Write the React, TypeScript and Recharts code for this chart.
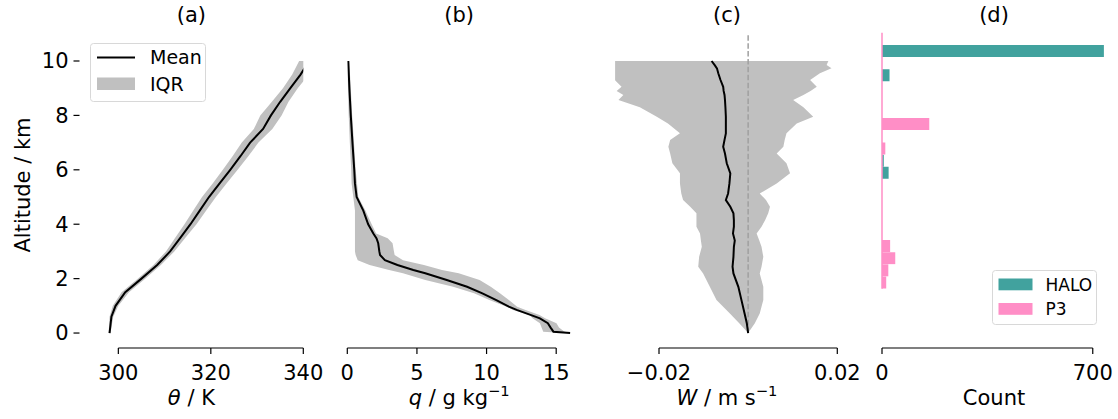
import React from 'react';
import { ComposedChart, Line, Area, Bar, XAxis, YAxis, ReferenceLine, Legend } from 'recharts';

const FONT = "'DejaVu Sans', 'Liberation Sans', sans-serif";
const FS = 21;
const GRAY = '#c0c0c0';
const TEAL = '#41a29e';
const PINK = '#ff8ec6';

const Y_MIN = -0.55;
const Y_MAX = 11.04;
const ALT_TICKS = [0, 2, 4, 6, 8, 10];

// (a) potential temperature
const thetaAlt = [0, 0.3, 0.6, 1.0, 1.5, 2.0, 2.5, 3.0, 3.5, 4.0, 4.5, 5.0, 5.5, 6.0, 6.5, 7.0, 7.5, 8.0, 8.5, 9.0, 9.5, 10.0];
const thetaMean = [298.1, 298.3, 298.5, 299.4, 301.5, 305.0, 308.4, 311.2, 313.4, 315.6, 317.6, 319.6, 321.9, 324.2, 326.4, 328.5, 331.3, 333.0, 335.0, 337.2, 339.4, 341.3];
const thetaLow = [297.9, 298.0, 298.1, 298.8, 300.7, 304.2, 307.6, 310.3, 312.3, 314.3, 316.2, 318.1, 320.4, 322.6, 324.7, 326.7, 329.3, 330.7, 333.2, 335.6, 337.6, 339.1];
const thetaHigh = [298.3, 298.6, 298.9, 300.0, 302.3, 305.8, 309.2, 312.1, 314.5, 316.9, 319.0, 321.1, 323.4, 325.8, 328.1, 330.3, 333.3, 335.3, 336.8, 338.8, 341.2, 343.5];
const thetaTicks = [300, 320, 340];

// (b) specific humidity
const qAlt = [0, 0.05, 0.2, 0.36, 0.54, 0.66, 0.85, 0.97, 1.21, 1.46, 1.7, 1.95, 2.2, 2.32, 2.5, 2.68, 2.87, 3.0, 3.3, 3.48, 3.66, 4.0, 4.5, 5.0, 5.5, 6.0, 7.0, 8.0, 9.0, 10.0];
const qMean = [16.0, 14.8, 14.6, 14.4, 13.83, 13.2, 12.16, 11.6, 10.7, 9.7, 8.6, 7.14, 5.6, 4.74, 3.6, 2.7, 2.35, 2.3, 2.22, 2.1, 1.87, 1.5, 1.15, 0.67, 0.55, 0.5, 0.37, 0.25, 0.15, 0.07];
const qLow = [15.5, 14.07, 13.95, 13.83, 13.3, 13.1, 11.9, 11.44, 10.2, 9.1, 7.6, 5.6, 4.0, 3.0, 1.6, 0.75, 0.6, 0.55, 0.55, 0.55, 0.55, 0.55, 0.55, 0.43, 0.31, 0.28, 0.18, 0.1, 0.05, 0.0];
const qHigh = [16.0, 15.6, 15.2, 15.02, 14.2, 13.8, 12.8, 12.2, 11.6, 10.96, 10.3, 9.5, 8.0, 6.8, 5.5, 4.0, 3.4, 3.35, 3.25, 2.9, 2.07, 1.75, 1.3, 0.79, 0.7, 0.6, 0.48, 0.35, 0.25, 0.14];
const qTicks = [0, 5, 10, 15];

// (c) vertical velocity
const wAlt = [0, 0.36, 0.72, 1.21, 1.7, 2.19, 2.44, 2.8, 3.17, 3.4, 3.66, 3.91, 4.15, 4.4, 4.64, 4.89, 5.13, 5.5, 5.87, 6.24, 6.6, 6.85, 7.1, 7.34, 7.7, 7.95, 8.3, 8.57, 8.75, 8.9, 9.05, 9.3, 9.55, 9.73, 9.85, 10.0];
const wMean = [0, -0.0003, -0.0008, -0.0015, -0.0022, -0.0033, -0.0035, -0.0033, -0.0032, -0.0030, -0.0034, -0.0032, -0.0032, -0.0033, -0.0040, -0.0050, -0.0045, -0.0042, -0.0040, -0.0048, -0.0052, -0.0056, -0.0053, -0.0050, -0.0050, -0.0050, -0.0051, -0.0052, -0.0053, -0.0055, -0.0056, -0.0062, -0.0067, -0.0070, -0.0075, -0.0082];
const wLow = [0, -0.0020, -0.0041, -0.0071, -0.0086, -0.0101, -0.0112, -0.0110, -0.0104, -0.0106, -0.0108, -0.0116, -0.0116, -0.0116, -0.0130, -0.0146, -0.0150, -0.0153, -0.0153, -0.0170, -0.0175, -0.0179, -0.0175, -0.0153, -0.0180, -0.0205, -0.0243, -0.0291, -0.0280, -0.0295, -0.0284, -0.0299, -0.0299, -0.0299, -0.0299, -0.0299];
const wHigh = [0, 0.0015, 0.0026, 0.0034, 0.0034, 0.0026, 0.0030, 0.0034, 0.0030, 0.0025, 0.0019, 0.0030, 0.0038, 0.0045, 0.0049, 0.0040, 0.0026, 0.0064, 0.0094, 0.0086, 0.0064, 0.0079, 0.0082, 0.0086, 0.0109, 0.0146, 0.0124, 0.0101, 0.0124, 0.0140, 0.0154, 0.0139, 0.0161, 0.0187, 0.0176, 0.0180];
const wTicks = [-0.02, 0.02];

// (d) histogram of flight altitudes
const binEdges = [1.63, 2.078, 2.526, 2.974, 3.422, 3.87, 4.318, 4.766, 5.214, 5.662, 6.11, 6.558, 7.006, 7.454, 7.902, 8.35, 8.798, 9.246, 9.694, 10.142, 10.59, 11.038];
const haloCounts = [0, 0, 0, 0, 0, 0, 0, 0, 0, 22, 6, 0, 0, 0, 0, 0, 0, 25, 0, 737, 0];
const p3Counts = [14, 21, 44, 27, 0, 0, 0, 0, 0, 0, 0, 11, 0, 157, 0, 0, 0, 0, 0, 0, 0];
const countTicks = [0, 700];

const profileRows = (alt: number[], mean: number[], lo: number[], hi: number[]) =>
  alt.map((z, i) => ({ z, mean: mean[i], band: [lo[i], hi[i]] }));

const thetaRows = profileRows(thetaAlt, thetaMean, thetaLow, thetaHigh);
const qRows = profileRows(qAlt, qMean, qLow, qHigh);
const wRows = profileRows(wAlt, wMean, wLow, wHigh);
const histRows = haloCounts.map((h, i) => ({
  z: (binEdges[i] + binEdges[i + 1]) / 2,
  halo: h,
  p3: p3Counts[i],
}));

const H = 419;
const PLOT_TOP = 32.7;
const PLOT_BOTTOM = 348;
const XAXIS_H = 40;
const LABEL_BASE = 405;

const tickStyle = { fontSize: FS, fill: '#000', fontFamily: FONT };

const fmtMinus = (v: number) => String(v).replace('-', '\u2212');

const xLabel = (parts: React.ReactNode) => (props: any) => {
  const vb = props.viewBox || {};
  return (
    <text x={vb.x + vb.width / 2} y={LABEL_BASE} textAnchor="middle" fontSize={FS} fontFamily={FONT} fill="#000">
      {parts}
    </text>
  );
};

const LegendA = () => (
  <svg width={116} height={59} style={{ display: 'block' }}>
    <rect x={0.5} y={0.5} width={115} height={58} rx={3} fill="rgba(255,255,255,0.8)" stroke="#d8d8d8" />
    <line x1={7} x2={45} y1={14.5} y2={14.5} stroke="#000" strokeWidth={2} />
    <rect x={7} y={34.5} width={38} height={12.5} fill={GRAY} />
    <text x={60} y={14.5 + 0.36 * 19} fontSize={19} fontFamily={FONT} fill="#000">Mean</text>
    <text x={60} y={40.8 + 0.36 * 19} fontSize={19} fontFamily={FONT} fill="#000">IQR</text>
  </svg>
);

const LegendD = () => (
  <svg width={105} height={55} style={{ display: 'block' }}>
    <rect x={0.5} y={0.5} width={104} height={54} rx={3} fill="rgba(255,255,255,0.8)" stroke="#d8d8d8" />
    <rect x={6.5} y={8.5} width={34} height={11.8} fill={TEAL} />
    <rect x={6.5} y={33} width={34} height={11.8} fill={PINK} />
    <text x={53.5} y={14.4 + 0.36 * 17} fontSize={17} fontFamily={FONT} fill="#000">HALO</text>
    <text x={53.5} y={38.9 + 0.36 * 17} fontSize={17} fontFamily={FONT} fill="#000">P3</text>
  </svg>
);

const commonX = {
  type: 'number' as const,
  axisLine: false,
  tickLine: { stroke: '#000', strokeWidth: 1.2 },
  tickSize: 6,
  tickMargin: 11,
  tick: tickStyle,
  interval: 0 as const,
  height: XAXIS_H,
  allowDataOverflow: true,
};

const hiddenY = (
  <YAxis type="number" dataKey="z" domain={[Y_MIN, Y_MAX]} hide allowDataOverflow reversed />
);

const spineProps = { stroke: '#000', strokeWidth: 1.2, ifOverflow: 'visible' as const };

export default function App() {
  const marginFor = (left: number, right: number) => ({
    top: PLOT_TOP,
    bottom: H - PLOT_BOTTOM - XAXIS_H,
    left,
    right,
  });

  return (
    <div style={{ position: 'absolute', left: 0, top: 0, width: 1118, height: H, background: '#fff', fontFamily: FONT }}>
      {/* (a) */}
      <div style={{ position: 'absolute', left: 0, top: 0 }}>
        <ComposedChart width={330} height={H} data={thetaRows} layout="vertical" margin={marginFor(0, 26.7)}>
          <XAxis {...commonX} dataKey="mean" domain={[291.6, 340]} ticks={thetaTicks}
            label={{ content: xLabel(<><tspan fontStyle="italic">θ</tspan><tspan> / K</tspan></>) }} />
          <YAxis type="number" dataKey="z" domain={[Y_MIN, Y_MAX]} ticks={ALT_TICKS} width={79.5} reversed
            axisLine={false} tickLine={{ stroke: '#000', strokeWidth: 1.2 }} tickSize={6} tickMargin={5}
            tick={tickStyle} interval={0} allowDataOverflow
            label={{
              content: () => (
                <text x={0} y={0} transform={`translate(${30},${185}) rotate(-90)`} textAnchor="middle"
                  fontSize={FS} fontFamily={FONT} fill="#000">Altitude / km</text>
              ),
            }} />
          <Area dataKey="band" name="IQR" fill={GRAY} fillOpacity={1} stroke="none" isAnimationActive={false} />
          <Line dataKey="mean" name="Mean" stroke="#000" strokeWidth={2} dot={false} isAnimationActive={false} />
          <ReferenceLine segment={[{ x: thetaTicks[0], y: Y_MIN }, { x: thetaTicks[thetaTicks.length - 1], y: Y_MIN }]} {...spineProps} />
          <Legend content={() => <LegendA />} layout="vertical" align="center" verticalAlign="middle"
            wrapperStyle={{ left: 90, top: 43, width: 116, height: 59 }} />
        </ComposedChart>
      </div>

      {/* (b) */}
      <div style={{ position: 'absolute', left: 330, top: 0 }}>
        <ComposedChart width={270} height={H} data={qRows} layout="vertical" margin={marginFor(17.3, 28.9)}>
          <XAxis {...commonX} dataKey="mean" domain={[0, 16.07]} ticks={qTicks}
            label={{ content: xLabel(<><tspan fontStyle="italic">q</tspan><tspan> / g kg</tspan><tspan fontSize={FS * 0.7} dy={-9}>−1</tspan></>) }} />
          {hiddenY}
          <Area dataKey="band" fill={GRAY} fillOpacity={1} stroke="none" isAnimationActive={false} />
          <Line dataKey="mean" stroke="#000" strokeWidth={2} dot={false} isAnimationActive={false} />
          <ReferenceLine segment={[{ x: qTicks[0], y: Y_MIN }, { x: qTicks[qTicks.length - 1], y: Y_MIN }]} {...spineProps} />
        </ComposedChart>
      </div>

      {/* (c) */}
      <div style={{ position: 'absolute', left: 600, top: 0 }}>
        <ComposedChart width={280} height={H} data={wRows} layout="vertical" margin={marginFor(15.1, 41.1)}>
          <XAxis {...commonX} dataKey="mean" domain={[-0.02985, 0.02036]} ticks={wTicks} tickFormatter={fmtMinus}
            label={{ content: xLabel(<><tspan fontStyle="italic">W</tspan><tspan> / m s</tspan><tspan fontSize={FS * 0.7} dy={-9}>−1</tspan></>) }} />
          {hiddenY}
          <Area dataKey="band" fill={GRAY} fillOpacity={1} stroke="none" isAnimationActive={false} />
          <ReferenceLine segment={[{ x: 0, y: 0 }, { x: 0, y: Y_MAX }]} stroke="#a0a0a0" strokeWidth={1.5} strokeDasharray="5.5 2.4" ifOverflow="visible" />
          <Line dataKey="mean" stroke="#000" strokeWidth={2} dot={false} isAnimationActive={false} />
          <ReferenceLine segment={[{ x: wTicks[0], y: Y_MIN }, { x: wTicks[wTicks.length - 1], y: Y_MIN }]} {...spineProps} />
        </ComposedChart>
      </div>

      {/* (d) */}
      <div style={{ position: 'absolute', left: 870, top: 0 }}>
        <ComposedChart width={248} height={H} data={histRows} layout="vertical" margin={marginFor(12, 12)} barCategoryGap={0} barGap={0}>
          <XAxis {...commonX} domain={[0, 744]} ticks={countTicks}
            label={{ content: xLabel(<tspan>Count</tspan>) }} />
          {hiddenY}
          <ReferenceLine segment={[{ x: 0, y: binEdges[0] }, { x: 0, y: binEdges[binEdges.length - 1] }]} stroke={PINK} strokeWidth={1.5} ifOverflow="visible" />
          <Bar dataKey="halo" name="HALO" stackId="s" fill={TEAL} isAnimationActive={false} />
          <Bar dataKey="p3" name="P3" stackId="s" fill={PINK} isAnimationActive={false} />
          <ReferenceLine segment={[{ x: countTicks[0], y: Y_MIN }, { x: countTicks[countTicks.length - 1], y: Y_MIN }]} {...spineProps} />
          <Legend content={() => <LegendD />} layout="vertical" align="center" verticalAlign="middle"
            wrapperStyle={{ left: 121.7, top: 270, width: 105, height: 55 }} />
        </ComposedChart>
      </div>

      {/* panel titles */}
      <svg width={1118} height={40} style={{ position: 'absolute', left: 0, top: 0, pointerEvents: 'none' }}>
        {[['(a)', 191.4], ['(b)', 459.2], ['(c)', 727], ['(d)', 994]].map(([t, x]) => (
          <text key={t as string} x={x as number} y={22} textAnchor="middle" fontSize={FS} fontFamily={FONT} fill="#000">{t}</text>
        ))}
      </svg>
    </div>
  );
}
